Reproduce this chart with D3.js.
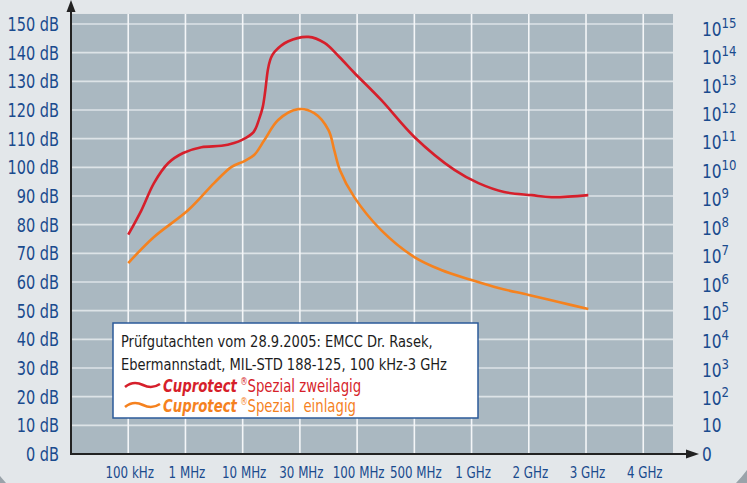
<!DOCTYPE html>
<html><head><meta charset="utf-8">
<script src="https://cdn.jsdelivr.net/npm/d3@7/dist/d3.min.js"></script>
<style>
html,body{margin:0;padding:0;background:#e3e7ea;}
svg{display:block;}
text{font-family:"DejaVu Sans Condensed","DejaVu Sans",sans-serif;}
</style></head>
<body>
<svg id="c" width="747" height="483"></svg>
<script>
// ---- data ----
const xTicks = ["100 kHz","1 MHz","10 MHz","30 MHz","100 MHz","500 MHz","1 GHz","2 GHz","3 GHz","4 GHz"];
const dbTicks = [0,10,20,30,40,50,60,70,80,90,100,110,120,130,140,150];
const rightExp = [0,1,2,3,4,5,6,7,8,9,10,11,12,13,14,15]; // 0 -> "0", 1 -> "10", n -> 10^n
// x positions in tick units (0 = 100 kHz ... 8 = 3 GHz), y in dB
const redX  = [0,0.23,0.45,0.70,0.96,1.28,1.63,1.85,1.98,2.19,2.29,2.35,2.39,2.44,2.48,2.52,2.56,2.79,3.15,3.43,3.69,3.95,4.42,5.0,5.70,6.12,6.57,7.05,7.40,8.04];
const redDb = [76.5,85,94.5,101.5,105,107,107.5,108.5,109.5,112.3,117,121,126,134,137.4,139.2,140.4,143.9,145.5,143.4,138.5,133,123.5,110.6,99.1,94.5,91.4,90.3,89.6,90.3];
const orgX  = [0,0.45,1.05,1.5,1.8,2.03,2.2,2.38,2.62,2.97,3.25,3.5,3.6,3.7,3.95,4.42,5.0,5.47,6.0,6.47,7.0,7.52,8.04];
const orgDb = [66.6,75.7,85.1,94.5,100.1,102.2,104.3,109.5,116.5,120.3,118.9,113,106,99,89.6,78.1,68.7,64.2,60.7,57.9,55.5,53,50.6];
const legendLines = ["Prüfgutachten vom 28.9.2005: EMCC Dr. Rasek,","Ebermannstadt, MIL-STD 188-125, 100 kHz-3 GHz"];
const series = [
  {brand:"Cuprotect", rest:"Spezial zweilagig", color:"#d61f2b", xs:redX, ys:redDb},
  {brand:"Cuprotect", rest:"Spezial  einlagig", color:"#f5821f", xs:orgX, ys:orgDb}
];

// ---- drawing ----
const svg = d3.select("#c");
const x = d3.scaleLinear().domain([-1, 9.52]).range([71, 673]);
const y = d3.scaleLinear().domain([0, 150]).range([454, 24]);
const blue = "#1a4b8e";

// horizontally condensed text helper
function ctext(parent, px, py, sx) {
  return parent.append("text").attr("transform", `translate(${px},${py}) scale(${sx},1)`);
}

// plot background
svg.append("rect").attr("x", x(-1)).attr("y", y(153.5)).attr("width", x(9.52)-x(-1)).attr("height", y(0)-y(153.5)).attr("fill", "#aab8c1");

// horizontal grid
svg.append("g").selectAll("line").data(dbTicks.filter(d=>d>0)).join("line")
  .attr("x1", x(-1)).attr("x2", x(9.52)).attr("y1", d=>y(d)).attr("y2", d=>y(d))
  .attr("stroke", "#dde3e7").attr("stroke-width", 1.6);
// vertical grid
svg.append("g").selectAll("line").data(xTicks).join("line")
  .attr("x1", (d,i)=>x(i)).attr("x2", (d,i)=>x(i)).attr("y1", y(153.5)).attr("y2", y(0))
  .attr("stroke", "#f4f6f8").attr("stroke-width", 1.6);

// axes with arrows
svg.append("line").attr("x1", x(-1)).attr("x2", x(-1)).attr("y1", y(0)+1).attr("y2", 10).attr("stroke", "#222").attr("stroke-width", 2);
svg.append("path").attr("d", `M${x(-1)-4.5},12 L${x(-1)},0 L${x(-1)+4.5},12 Z`).attr("fill", "#222");
svg.append("line").attr("x1", x(-1)-1).attr("x2", 688).attr("y1", y(0)).attr("y2", y(0)).attr("stroke", "#222").attr("stroke-width", 2);
svg.append("path").attr("d", `M686,${y(0)-4.5} L699,${y(0)} L686,${y(0)+4.5} Z`).attr("fill", "#222");

// left labels
const lg = svg.append("g");
dbTicks.forEach(d=>{
  ctext(lg, 59, y(d)+7, 0.85).attr("text-anchor", "end").attr("font-size", 19).attr("fill", blue).text(d+" dB");
});

// bottom labels
const bg = svg.append("g");
xTicks.forEach((d,i)=>{
  ctext(bg, x(i)+1.5, 478, 0.8).attr("text-anchor", "middle").attr("font-size", 16.5).attr("fill", blue).text(d);
});

// right labels
const rg = svg.append("g");
rightExp.forEach((e,i)=>{
  const t = ctext(rg, 702, y(dbTicks[i])+7 + (e>=2 ? 1 + e*0.25 : 0), 0.9)
    .attr("font-size", 19).attr("fill", blue);
  if (e === 0) t.text("0");
  else if (e === 1) t.text("10");
  else {
    t.append("tspan").text("10");
    t.append("tspan").attr("dy", -8).attr("font-size", 14.5).text(e);
  }
});

// curves
const line = d3.line().curve(d3.curveCatmullRom.alpha(0.5)).x(d=>x(d[0])).y(d=>y(d[1]));
series.forEach(s=>{
  svg.append("path").datum(s.xs.map((v,i)=>[v, s.ys[i]]))
    .attr("d", line).attr("fill", "none").attr("stroke", s.color).attr("stroke-width", 2.6)
    .attr("stroke-linecap", "butt");
});

// legend
svg.append("rect").attr("x", 113).attr("y", 323).attr("width", 365).attr("height", 95)
  .attr("fill", "#ffffff").attr("stroke", "#2b5a99").attr("stroke-width", 1.5);
legendLines.forEach((l,i)=>{
  ctext(svg, 121, 347 + i*23, 0.88).attr("font-size", 16.5).attr("fill", "#1c1c1c").text(l);
});
series.forEach((s,i)=>{
  const cy = 385 + i*20;
  svg.append("path").attr("d", `M125,${cy+2} C131,${cy-3} 137,${cy-3} 143,${cy} S154,${cy+3} 160,${cy-1}`)
    .attr("fill", "none").attr("stroke", s.color).attr("stroke-width", 2.6);
  const t = ctext(svg, 163, cy+7, 0.82).attr("font-size", 18).attr("fill", s.color).style("white-space", "pre");
  t.append("tspan").attr("font-weight", "bold").attr("font-style", "italic").text(s.brand);
  t.append("tspan").attr("dx", 4).attr("dy", -7).attr("font-size", 10).text("®");
  t.append("tspan").attr("dy", 7).text(s.rest);
});

// corner shading
svg.append("path").attr("d", "M747,470 Q741,478 736,483 L747,483 Z").attr("fill", "#9aa3aa");
svg.append("path").attr("d", "M0,476 L6,483 L0,483 Z").attr("fill", "#9aa3aa");
</script>
</body></html>
